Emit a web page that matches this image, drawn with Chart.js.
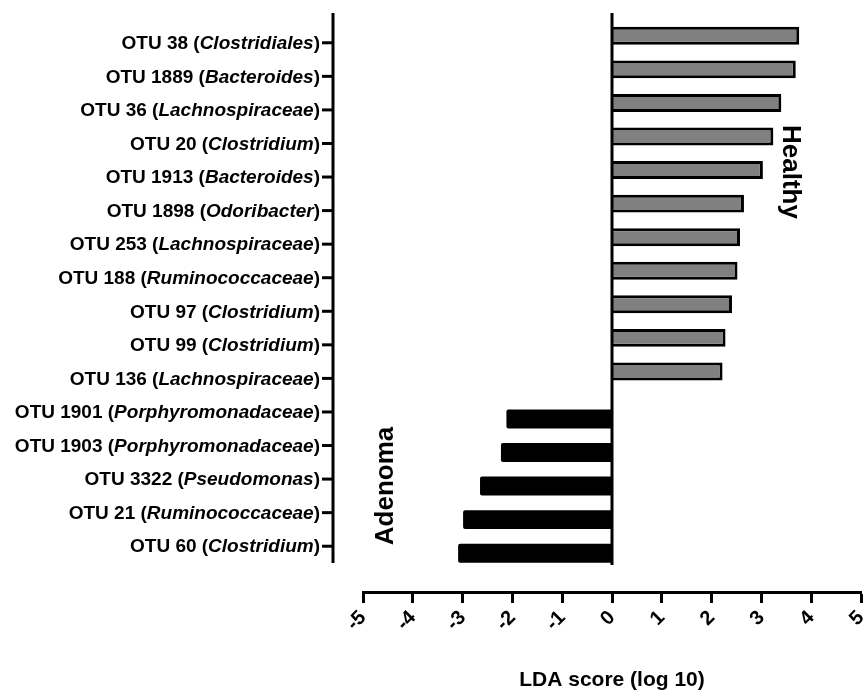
<!DOCTYPE html>
<html>
<head>
<meta charset="utf-8">
<title>LDA score (log 10)</title>
<script src="https://cdn.jsdelivr.net/npm/chart.js@4.4.1/dist/chart.umd.min.js"></script>
<style>
	body { margin: 0; background: #fff; }
	canvas { display: block; }
</style>
</head>
<body>
<canvas id="lienzo" width="866" height="694"></canvas>
<script>
// data
const otuIds = ['OTU 38', 'OTU 1889', 'OTU 36', 'OTU 20', 'OTU 1913', 'OTU 1898', 'OTU 253', 'OTU 188',
	'OTU 97', 'OTU 99', 'OTU 136', 'OTU 1901', 'OTU 1903', 'OTU 3322', 'OTU 21', 'OTU 60'];
const taxa = ['Clostridiales', 'Bacteroides', 'Lachnospiraceae', 'Clostridium', 'Bacteroides', 'Odoribacter',
	'Lachnospiraceae', 'Ruminococcaceae', 'Clostridium', 'Clostridium', 'Lachnospiraceae',
	'Porphyromonadaceae', 'Porphyromonadaceae', 'Pseudomonas', 'Ruminococcaceae', 'Clostridium'];
const ldaScores = [3.76, 3.69, 3.40, 3.24, 3.03, 2.65, 2.57, 2.52, 2.41, 2.28, 2.22,
	-2.12, -2.23, -2.65, -2.99, -3.09];
const groups = ['Healthy', 'Healthy', 'Healthy', 'Healthy', 'Healthy', 'Healthy', 'Healthy', 'Healthy',
	'Healthy', 'Healthy', 'Healthy', 'Adenoma', 'Adenoma', 'Adenoma', 'Adenoma', 'Adenoma'];
const xTicks = [-5, -4, -3, -2, -1, 0, 1, 2, 3, 4, 5];

const FONT = '"Liberation Sans", Arial, Helvetica, sans-serif';

const healthyData = ldaScores.map((v, i) => groups[i] === 'Healthy' ? v : null);
const adenomaData = ldaScores.map((v, i) => groups[i] === 'Adenoma' ? v : null);

// left category axis with mixed bold / italic labels, zero line, group names
const extras = {
	id: 'extras',
	afterDatasetsDraw(chart) {
		const ctx = chart.ctx;
		const xs = chart.scales.x;
		const ys = chart.scales.y;
		const area = chart.chartArea;
		const axisTop = 13;
		const ax = area.left - 30;

		ctx.save();
		ctx.strokeStyle = '#000';
		ctx.fillStyle = '#000';
		ctx.lineWidth = 3;

		const x0 = xs.getPixelForValue(0);
		ctx.beginPath(); ctx.moveTo(x0, axisTop); ctx.lineTo(x0, area.bottom + 2); ctx.stroke();

		ctx.beginPath(); ctx.moveTo(ax, axisTop); ctx.lineTo(ax, area.bottom); ctx.stroke();

		ctx.textBaseline = 'middle';
		ctx.textAlign = 'left';
		otuIds.forEach((id, i) => {
			const py = ys.getPixelForValue(i);
			ctx.beginPath(); ctx.moveTo(ax - 11, py); ctx.lineTo(ax, py); ctx.stroke();

			const parts = [
				{ t: id + ' (', f: 'bold 19px ' + FONT },
				{ t: taxa[i], f: 'italic bold 19px ' + FONT },
				{ t: ')', f: 'bold 19px ' + FONT }
			];
			let total = 0;
			parts.forEach(p => { ctx.font = p.f; p.w = ctx.measureText(p.t).width; total += p.w; });
			let px = ax - 13 - total;
			parts.forEach(p => { ctx.font = p.f; ctx.fillText(p.t, px, py + 1); px += p.w; });
		});

		ctx.font = 'bold 26px ' + FONT;
		ctx.textAlign = 'center';
		ctx.save();
		ctx.translate(790, 172);
		ctx.rotate(Math.PI / 2);
		ctx.fillText('Healthy', 0, 0);
		ctx.restore();

		ctx.save();
		ctx.translate(386, 486);
		ctx.rotate(-Math.PI / 2);
		ctx.fillText('Adenoma', 0, 0);
		ctx.restore();

		ctx.restore();
	}
};

const chart = new Chart(document.getElementById('lienzo'), {
	type: 'bar',
	data: {
		labels: otuIds,
		datasets: [
			{
				label: 'Healthy',
				data: healthyData,
				xAxisID: 'x',
				yAxisID: 'y',
				backgroundColor: '#808080',
				borderColor: '#000',
				borderWidth: 3,
				categoryPercentage: 0.83,
				barPercentage: 1.29
			},
			{
				label: 'Adenoma',
				data: adenomaData,
				xAxisID: 'x',
				yAxisID: 'y',
				backgroundColor: '#000',
				borderColor: '#000',
				borderWidth: 0,
				borderRadius: 2,
				categoryPercentage: 0.83,
				barPercentage: 1.36
			}
		]
	},
	options: {
		indexAxis: 'y',
		responsive: false,
		animation: false,
		layout: { padding: { top: 26, left: 363, right: 5, bottom: 0 } },
		plugins: {
			legend: { display: false },
			tooltip: { enabled: false }
		},
		scales: {
			x: {
				type: 'linear',
				position: 'bottom',
				weight: 1,
				min: xTicks[0],
				max: xTicks[xTicks.length - 1],
				afterFit: s => { s.height = 102; s.paddingLeft = 0; s.paddingRight = 0; },
				border: { display: true, color: '#000', width: 3 },
				grid: {
					display: true,
					drawOnChartArea: false,
					drawTicks: true,
					tickLength: 11,
					tickWidth: 3,
					tickColor: '#000'
				},
				ticks: {
					stepSize: 1,
					minRotation: 45,
					maxRotation: 45,
					padding: 3,
					color: '#000',
					font: { family: FONT, size: 20, weight: 'bold' },
					callback: v => xTicks.includes(v) ? String(v) : ''
				},
				title: {
					display: true,
					text: 'LDA score (log 10)',
					color: '#000',
					font: { family: FONT, size: 21, weight: 'bold' },
					padding: { top: 0, bottom: 1 }
				}
			},
			y: {
				type: 'category',
				display: false
			},
			// empty spacer so the x axis sits below the bars like the original
			gap: {
				type: 'linear',
				axis: 'x',
				position: 'bottom',
				weight: 0,
				min: 0,
				max: 1,
				grid: { display: false },
				border: { display: false },
				ticks: { display: false },
				afterFit: s => { s.height = 29; }
			}
		}
	},
	plugins: [extras]
});
</script>
</body>
</html>
